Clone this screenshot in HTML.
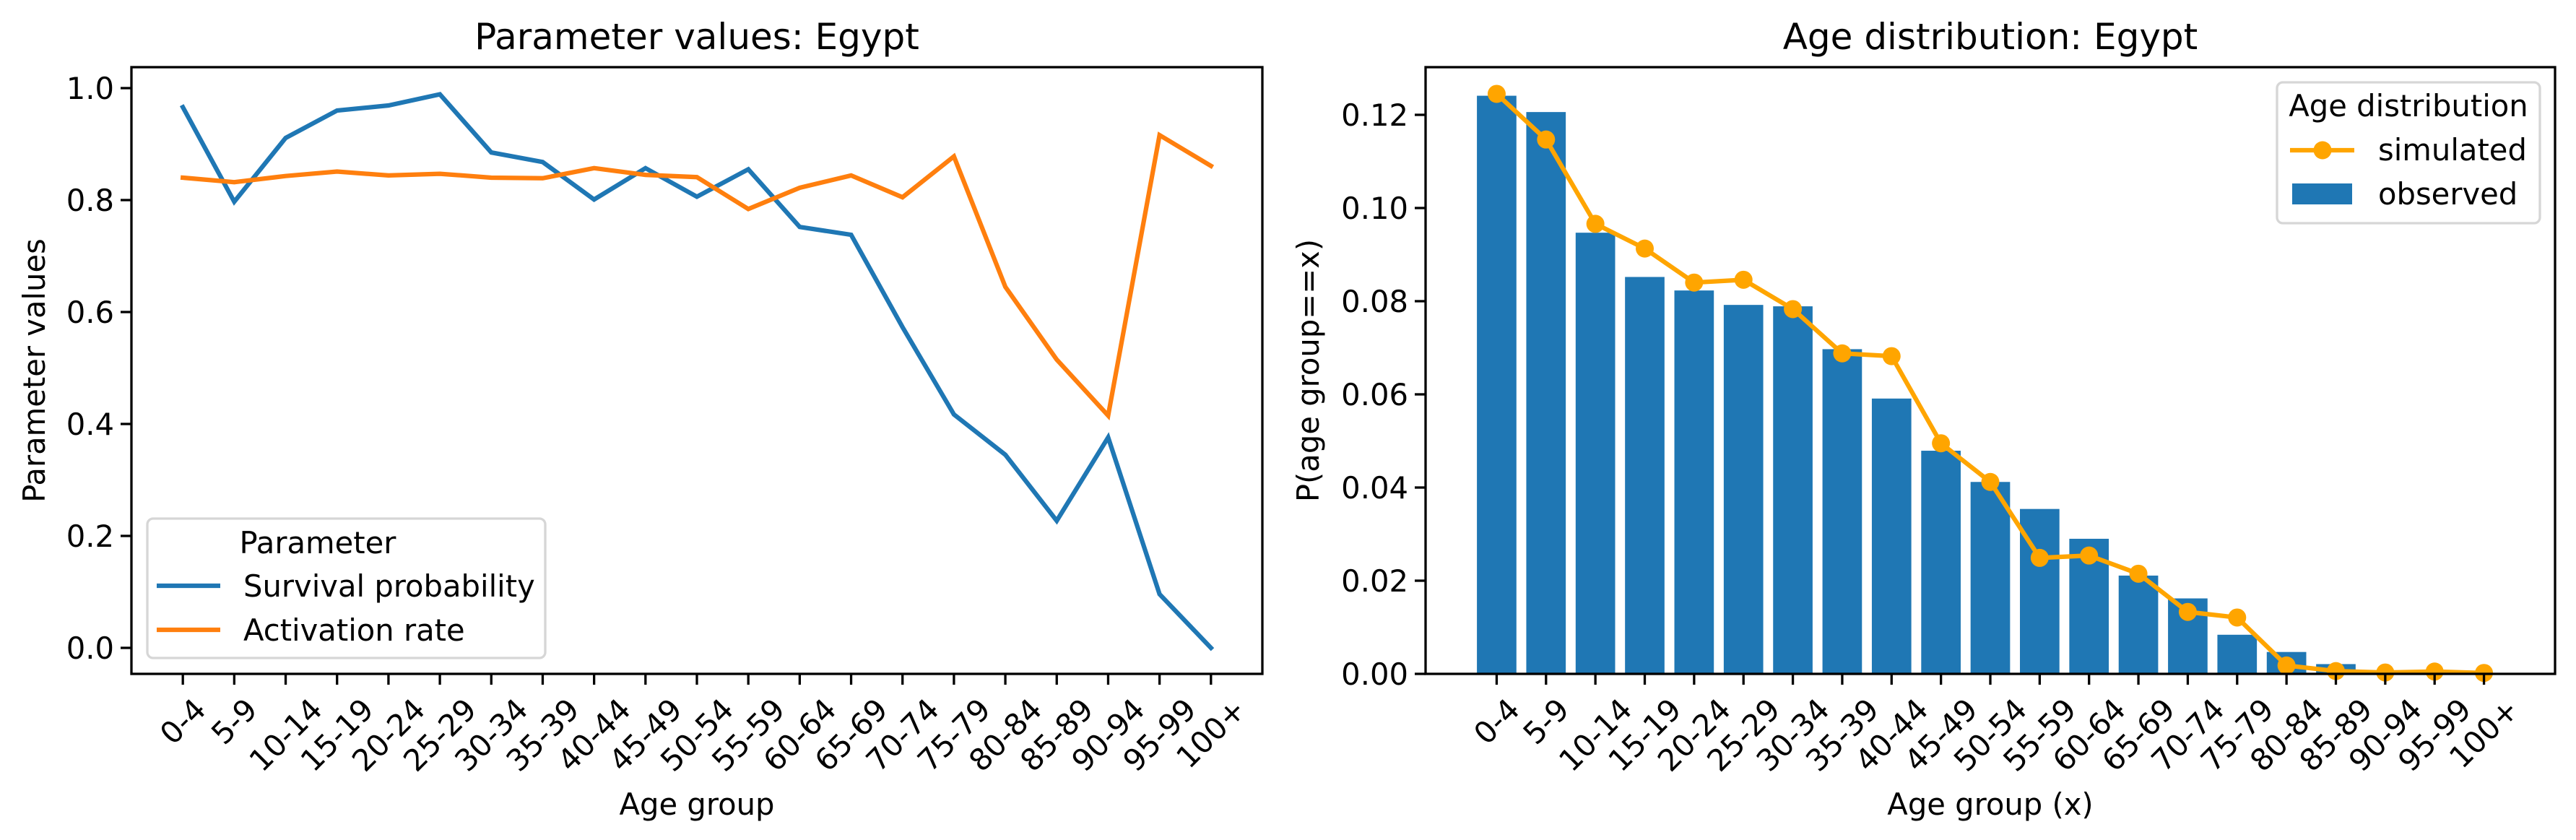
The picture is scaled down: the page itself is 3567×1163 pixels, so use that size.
<!DOCTYPE html>
<html><head><meta charset="utf-8"><style>
html,body{margin:0;padding:0;background:#fff}
svg{display:block;font-family:"DejaVu Sans","Liberation Sans",sans-serif}
</style></head><body>
<svg id="fig" width="3567" height="1163" viewBox="0 0 3567 1163" xmlns="http://www.w3.org/2000/svg">
<rect width="3567" height="1163" fill="#fff"/>
<g id="left"></g>
<g id="right"></g>
</svg>
<script>
const categories = ["0-4","5-9","10-14","15-19","20-24","25-29","30-34","35-39","40-44","45-49","50-54","55-59","60-64","65-69","70-74","75-79","80-84","85-89","90-94","95-99","100+"];
const survivalValues = [0.966,0.797,0.911,0.960,0.969,0.989,0.885,0.868,0.801,0.857,0.806,0.855,0.752,0.738,0.573,0.417,0.345,0.227,0.376,0.096,0.0];
const activationValues = [0.840,0.832,0.843,0.851,0.844,0.847,0.840,0.839,0.857,0.845,0.841,0.784,0.822,0.844,0.805,0.878,0.645,0.515,0.415,0.916,0.861];
const observedValues = [0.1241,0.1206,0.0947,0.0852,0.0823,0.0792,0.0789,0.0697,0.0591,0.0479,0.0412,0.0354,0.0290,0.0211,0.0162,0.0084,0.0047,0.0021,0.0,0.0,0.0];
const simulatedValues = [0.1245,0.1147,0.0966,0.0913,0.0840,0.0846,0.0783,0.0688,0.0682,0.0495,0.0412,0.0249,0.0254,0.0215,0.0133,0.0121,0.0018,0.0006,0.0003,0.0005,0.0002];
const leftYTicks = ["0.0","0.2","0.4","0.6","0.8","1.0"];
const rightYTicks = ["0.00","0.02","0.04","0.06","0.08","0.10","0.12"];

const NS="http://www.w3.org/2000/svg";
function mk(parent,tag,attrs,text){const e=document.createElementNS(NS,tag);for(const k in attrs)e.setAttribute(k,attrs[k]);if(text!==undefined)e.textContent=text;parent.appendChild(e);return e;}
const FS=41.7;

function drawAxes(g,x0,x1,y0,y1,xs,ys,yTicks,title,xlabel,ylabel,ylabelX){
  // x tick marks & labels
  categories.forEach((c,i)=>{
    const x=xs(i);
    const t=mk(g,'line',{x1:x,y1:y1,x2:x,y2:y1+15,stroke:'#000','stroke-width':3.3});
    
    
    const lab=mk(g,'text',{'font-size':FS,'text-anchor':'middle','dominant-baseline':'central'},c);
    
    
    const w=lab.getComputedTextLength();
    const h=FS*1.0;
    const W=(w+h)*0.7071;
    const cy=y1+15+12+W/2;
    lab.setAttribute('x',x);lab.setAttribute('y',cy);
    lab.setAttribute('transform',`rotate(-45 ${x} ${cy})`);
  });
  yTicks.forEach(s=>{
    const v=parseFloat(s), y=ys(v);
    const t=mk(g,'line',{x1:x0-15,y1:y,x2:x0,y2:y,stroke:'#000','stroke-width':3.3});
    
    
    const l=mk(g,'text',{x:x0-24,y:y+15,'font-size':FS,'text-anchor':'end'},s);
    
    
  });
  const fr=mk(g,'rect',{x:x0,y:y0,width:x1-x0,height:y1-y0,fill:'none',stroke:'#000','stroke-width':3.3});
  
  
  const tt=mk(g,'text',{x:(x0+x1)/2,y:68,'font-size':50,'text-anchor':'middle'},title);
  
  
  const xl=mk(g,'text',{x:(x0+x1)/2,y:1128,'font-size':FS,'text-anchor':'middle'},xlabel);
  
  
  const cy=(y0+y1)/2;
  const yl=mk(g,'text',{x:ylabelX,y:cy,'font-size':FS,'text-anchor':'middle',transform:`rotate(-90 ${ylabelX} ${cy})`},ylabel);
  
  
}

// LEFT
(function(){
  const g=document.getElementById('left');
  const x0=182,x1=1748,y0=93,y1=933;
  const step=(x1-x0)/22;
  const xs=i=>x0+(i+1)*step;
  const ys=v=>897-v*775;
  function line(vals,color,name){
    const p=mk(g,'polyline',{points:vals.map((v,i)=>xs(i)+','+ys(v)).join(' '),fill:'none',stroke:color,'stroke-width':6.25,'stroke-linejoin':'miter','stroke-linecap':'square'});
    
    
  }
  line(survivalValues,'#1f77b4','survival-probability-line');
  line(activationValues,'#ff7f0e','activation-rate-line');
  drawAxes(g,x0,x1,y0,y1,xs,ys,leftYTicks,'Parameter values: Egypt','Age group','Parameter values',62);
  const lg=mk(g,'g',{});
  
  
  mk(lg,'rect',{x:204,y:718,width:551,height:193,rx:8,fill:'#fff','fill-opacity':0.8,stroke:'#d6d6d6','stroke-width':3.3});
  mk(lg,'text',{x:440,y:766,'font-size':FS,'text-anchor':'middle'},'Parameter');
  const e1=mk(lg,'line',{x1:217,y1:811,x2:305,y2:811,stroke:'#1f77b4','stroke-width':6.25});
  
  
  mk(lg,'text',{x:337,y:826,'font-size':FS},'Survival probability');
  const e2=mk(lg,'line',{x1:217,y1:872,x2:305,y2:872,stroke:'#ff7f0e','stroke-width':6.25});
  
  
  mk(lg,'text',{x:337,y:887,'font-size':FS},'Activation rate');
})();

// RIGHT
(function(){
  const g=document.getElementById('right');
  const x0=1974,x1=3538,y0=93,y1=933;
  const step=(x1-x0)/22.88;
  const xs=i=>x0+(i+1.44)*step;
  const ys=v=>933-v*6450;
  const bw=0.8*step;
  observedValues.forEach((v,i)=>{
    const r=mk(g,'rect',{x:xs(i)-bw/2,y:ys(v),width:bw,height:Math.max(0,933-ys(v)),fill:'#1f77b4'});
    
    
  });
  const p=mk(g,'polyline',{points:simulatedValues.map((v,i)=>xs(i)+','+ys(v)).join(' '),fill:'none',stroke:'orange','stroke-width':6.25});
  
  
  simulatedValues.forEach((v,i)=>{
    const c=mk(g,'circle',{cx:xs(i),cy:ys(v),r:12.5,fill:'orange'});
    
    
  });
  drawAxes(g,x0,x1,y0,y1,xs,ys,rightYTicks,'Age distribution: Egypt','Age group (x)','P(age group==x)',1826);
  const lg=mk(g,'g',{});
  
  
  mk(lg,'rect',{x:3153,y:114,width:364,height:195,rx:8,fill:'#fff','fill-opacity':0.8,stroke:'#d6d6d6','stroke-width':3.3});
  mk(lg,'text',{x:3335,y:161,'font-size':FS,'text-anchor':'middle'},'Age distribution');
  const e1=mk(lg,'g',{});
  
  
  mk(e1,'line',{x1:3171,y1:208,x2:3260,y2:208,stroke:'orange','stroke-width':6.25});
  mk(e1,'circle',{cx:3216,cy:208,r:12.5,fill:'orange'});
  mk(lg,'text',{x:3293,y:222,'font-size':FS},'simulated');
  const e2=mk(lg,'rect',{x:3174,y:254,width:83,height:29,fill:'#1f77b4'});
  
  
  mk(lg,'text',{x:3293,y:283,'font-size':FS},'observed');
})();
</script>
</body></html>
